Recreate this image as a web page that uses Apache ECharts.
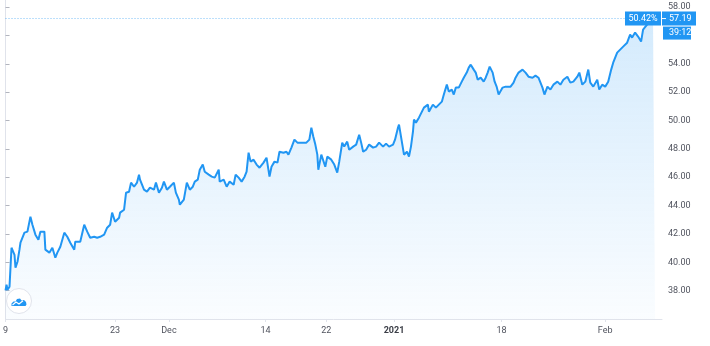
<!DOCTYPE html>
<html><head><meta charset="utf-8">
<script src="https://cdn.jsdelivr.net/npm/echarts@6/dist/echarts.min.js"></script>
<style>html,body{margin:0;padding:0;background:#fff;overflow:hidden}#c{width:710px;height:346px}</style>
</head><body><div id="c"></div>
<script>
// time in steps of ~1/10.5 trading day from Nov 9 2020
const timeSteps = [0,1,2,4,6,9,10,12,14,15,19,22,25,27,30,33,35,39,40,44,47,50,52,55,59,62,65,69,70,75,79,82,85,89,92,95,99,102,
105,107,110,114,115,119,121,124,126,129,132,134,135,137,139,142,145,149,151,154,157,159,162,165,169,171,174,175,179,182,185,188,190,193,195,198,200,204,207,
210,214,215,219,222,225,229,231,234,237,240,242,244,246,249,252,255,259,262,265,267,270,273,275,279,282,284,287,290,293,295,299,302,305,307,309,311,313,314,317,
319,321,323,325,327,330,333,335,338,340,343,345,349,352,355,357,359,362,365,369,372,375,379,382,385,389,391,394,395,398,400,403,405,407,409,410,412,415,417,
420,424,425,429,432,435,438,440,443,445,448,450,452,455,458,460,463,465,467,470,472,474,477,480,482,484,486,489,491,493,495,499,502,504,507,510,512,515,519,522,525,529,532,
535,539,541,544,547,550,554,557,560,564,567,570,574,576,579,582,585,587,590,594,596,599,602,605,608,610,614,617,620,624,627,629,632,635,638,640,644,647,650,652];
const prices = [38.02,38.42,38.06,38.28,41.03,40.53,39.62,40.04,40.89,41.38,42.09,42.16,43.22,42.65,41.95,41.59,42.16,42.16,40.89,40.68,41.03,40.32,40.68,41.10,42.09,41.80,41.38,40.89,41.45,41.45,42.65,42.16,41.73,41.80,41.73,41.80,41.95,42.44,
42.65,43.50,42.86,43.14,43.50,43.71,44.91,44.98,45.62,45.33,45.62,46.18,45.83,45.69,45.12,44.98,45.26,45.12,45.62,44.91,45.26,45.69,45.12,45.33,45.62,44.91,44.42,44.06,44.42,45.62,45.12,45.33,45.69,45.83,46.53,46.89,46.39,46.18,46.04,
45.97,46.53,45.69,45.83,45.33,45.69,45.47,46.18,45.97,45.69,46.04,46.39,47.73,47.10,47.24,46.89,46.67,47.03,47.38,46.04,46.74,47.10,47.03,47.80,47.73,47.80,47.59,48.09,48.65,48.44,48.51,48.44,48.44,48.65,49.50,48.86,48.30,47.59,46.53,47.59,
47.45,46.74,47.45,47.59,47.24,46.89,46.32,47.10,48.44,48.16,48.51,47.94,48.16,48.30,49.00,48.44,47.80,47.94,48.30,48.09,48.16,48.44,48.16,48.37,48.16,48.30,48.65,49.50,49.71,48.44,47.59,47.80,47.45,48.16,49.21,50.06,49.85,50.20,50.20,
50.91,51.12,50.62,51.12,50.91,51.12,51.33,51.83,52.53,52.04,52.18,51.83,52.32,52.32,52.74,53.02,53.38,53.73,53.94,53.59,53.38,52.88,53.02,52.74,53.02,53.38,53.80,53.38,52.74,52.39,51.83,52.32,52.39,52.32,52.39,52.67,53.02,53.38,53.59,53.38,53.09,53.02,53.17,
53.02,52.32,51.83,52.39,52.18,52.53,52.74,52.53,52.88,53.09,52.67,52.74,53.09,53.38,52.53,52.74,53.59,52.67,52.39,52.88,52.18,52.53,52.39,52.74,53.59,54.08,54.79,55.00,55.21,55.49,56.06,55.85,56.20,55.92,55.57,56.41,56.76,56.91,57.12,57.19];
const xTickPositions = [0,110,164,261,322,390,498,602];
const xTickLabels = ['9','23','Dec','14','22','2021','18','Feb'];
const yMin = 36, yMax = 58.5, yStep = 2;
const changeLabel = '50.42%';
const timerLabel = '39:12';

const BLUE = '#2196f3';
const chart = echarts.init(document.getElementById('c'), null, {renderer: 'canvas'});
const data = timeSteps.map((t, i) => [t, prices[i]]);
const last = prices[prices.length - 1];
const FONT = 'Roboto';

chart.setOption({
  animation: false,
  grid: {left: 3, right: 48, top: 0, bottom: 27, containLabel: false},
  xAxis: {
    type: 'value', min: 0, max: 659,
    axisLine: {show: true, lineStyle: {color: '#e0e3eb', width: 1}},
    axisTick: {show: true, customValues: xTickPositions, length: 3, lineStyle: {color: '#e0e3eb'}},
    splitLine: {show: false},
    axisLabel: {
      customValues: xTickPositions,
      formatter: v => { const i = xTickPositions.indexOf(v); const s = i >= 0 ? xTickLabels[i] : ''; return s === '2021' ? '{b|' + s + '}' : s; },
      color: '#50535e', fontSize: 9, fontFamily: FONT, margin: 7,
      rich: {b: {fontWeight: 'bold', color: '#3a3d46', fontSize: 9, fontFamily: FONT}}
    }
  },
  yAxis: {
    type: 'value', position: 'right', min: yMin, max: yMax, interval: yStep,
    axisLine: {show: true, lineStyle: {color: '#e0e3eb', width: 1}},
    axisTick: {show: true, length: 4, lineStyle: {color: '#b2b5be'}},
    splitLine: {show: false},
    axisLabel: {
      showMinLabel: false, showMaxLabel: false,
      formatter: v => (v === 56 || v === yMin) ? '' : v.toFixed(2),
      color: '#50535e', fontSize: 9, fontFamily: FONT, margin: 6
    }
  },
  series: [{
    type: 'line', data: data, showSymbol: false, symbol: 'none',
    lineStyle: {color: BLUE, width: 2},
    areaStyle: {color: new echarts.graphic.LinearGradient(0, 0, 0, 1, [
      {offset: 0, color: 'rgba(33,150,243,0.28)'},
      {offset: 1, color: 'rgba(33,150,243,0.03)'}
    ])},
    markLine: {
      silent: true, symbol: 'none', label: {show: false},
      lineStyle: {color: 'rgba(33,150,243,0.6)', type: [1, 2], width: 1},
      data: [{yAxis: last}]
    }
  }]
});

const yPix = chart.convertToPixel({yAxisIndex: 0}, last);
const xEnd = chart.convertToPixel({xAxisIndex: 0}, 659);
chart.setOption({
  graphic: [
    {type: 'rect', z: 100, shape: {x: xEnd - 37, y: yPix - 7, width: 36, height: 14}, style: {fill: BLUE}},
    {type: 'text', z: 101, style: {x: xEnd - 19, y: yPix, text: changeLabel, fill: '#fff', font: '9px ' + FONT, align: 'center', verticalAlign: 'middle'}},
    {type: 'rect', z: 100, shape: {x: xEnd, y: yPix - 7, width: 34, height: 14}, style: {fill: BLUE}},
    {type: 'line', z: 101, shape: {x1: xEnd, y1: yPix, x2: xEnd + 4, y2: yPix}, style: {stroke: '#fff', lineWidth: 1}},
    {type: 'text', z: 101, style: {x: xEnd + 7, y: yPix, text: last.toFixed(2), fill: '#fff', font: '9px ' + FONT, align: 'left', verticalAlign: 'middle'}},
    {type: 'rect', z: 100, shape: {x: xEnd + 1, y: yPix + 8, width: 28, height: 13}, style: {fill: BLUE}},
    {type: 'text', z: 101, style: {x: xEnd + 7, y: yPix + 14.5, text: timerLabel, fill: '#fff', font: '9px ' + FONT, align: 'left', verticalAlign: 'middle'}},
    // logo
    {type: 'circle', z: 100, shape: {cx: 19, cy: 301, r: 12.5}, style: {fill: '#fff', stroke: '#e0e3eb', lineWidth: 1}},
    {type: 'polygon', z: 101, shape: {points: [[11.5, 306], [11.5, 303.5], [13.5, 301.5], [15.5, 301.5], [17, 299], [20, 298.5], [21.5, 300.5], [24, 300], [26, 302], [26.5, 304.5], [25.5, 306]]}, style: {fill: BLUE}},
    {type: 'polyline', z: 102, shape: {points: [[12.5, 305], [16, 302], [19, 304], [23, 300.8]]}, style: {stroke: '#fff', lineWidth: 1.2, fill: null}}
  ]
});
</script>
</body></html>
